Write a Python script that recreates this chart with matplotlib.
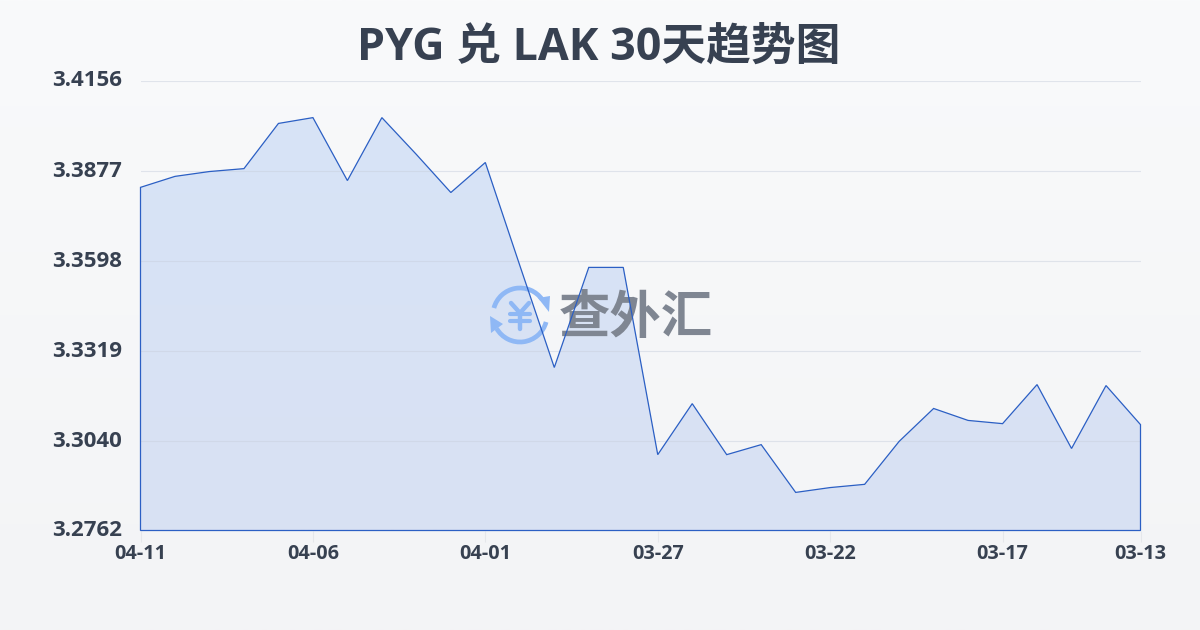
import numpy as np
import matplotlib
matplotlib.use("Agg")
import matplotlib.pyplot as plt
from matplotlib.patches import Arc, Polygon
from matplotlib.colors import LinearSegmentedColormap
from matplotlib.transforms import ScaledTranslation

plt.rcParams['font.family'] = ['Open Sans', 'Noto Sans CJK SC', 'DejaVu Sans']

title = "PYG 兑 LAK 30天趋势图"
rates = [3.3825, 3.3859, 3.3874, 3.3883, 3.4023, 3.4041, 3.3846, 3.4041, 3.3927, 3.3809,
         3.3902, 3.3583, 3.3267, 3.3577, 3.3577, 3.2997, 3.3155, 3.2997, 3.3028, 3.2880,
         3.2895, 3.2905, 3.3038, 3.3140, 3.3103, 3.3093, 3.3214, 3.3016, 3.3211, 3.3090]
y_ticks = [3.2762, 3.3040, 3.3319, 3.3598, 3.3877, 3.4156]
x_tick_pos = [0, 5, 10, 15, 20, 25, 29]
x_tick_labels = ["04-11", "04-06", "04-01", "03-27", "03-22", "03-17", "03-13"]

TXT = "#374151"
W, H = 1200, 630
fig = plt.figure(figsize=(W / 100, H / 100), dpi=100)

bg = fig.add_axes([0, 0, 1, 1], zorder=0)
bg.axis("off")
bg.imshow(np.linspace(0, 1, 256)[:, None], aspect="auto", extent=[0, W, H, 0],
          cmap=LinearSegmentedColormap.from_list("bg", ["#f9fafb", "#f3f4f6"]))
bg.set_xlim(0, W)
bg.set_ylim(H, 0)

L, R, T, B = 140.5, 1140.5, 80.5, 530.5
pos = [L / W, 1 - B / H, (R - L) / W, (B - T) / H]
ax = fig.add_axes(pos, zorder=2)
ax.patch.set_visible(False)
x = np.arange(len(rates))

grad = ax.imshow(np.linspace(0, 1, 256)[:, None], aspect="auto",
                 extent=[0, 29, y_ticks[0], y_ticks[-1]], origin="upper", zorder=1,
                 cmap=LinearSegmentedColormap.from_list("fill", ["#d7e4f7", "#d9e1f3"]))
poly = Polygon(list(zip(x, rates)) + [(29, y_ticks[0]), (0, y_ticks[0])],
               closed=True, transform=ax.transData, facecolor="none", edgecolor="none")
ax.add_patch(poly)
grad.set_clip_path(poly)
ax.set_xlim(0, 29)
ax.set_ylim(y_ticks[0], y_ticks[-1])

ax.set_yticks(y_ticks)
ax.set_yticklabels([f"{v:.4f}" for v in y_ticks], fontsize=16, fontweight="bold", color=TXT)
ax.set_xticks(x_tick_pos)
ax.set_xticklabels(x_tick_labels, fontsize=14.3, fontweight="bold", color=TXT)
ax.tick_params(axis="y", length=0, pad=13.5)
ax.tick_params(axis="x", length=8, width=0.8, color="#e5e7eb", pad=1.5)
lift = ScaledTranslation(0, 2 / 100, fig.dpi_scale_trans)
for lab in ax.get_yticklabels():
    lab.set_transform(lab.get_transform() + lift)
ax.grid(axis="y", color="#c9d0de", alpha=0.5, linewidth=0.8, zorder=2)
ax.set_axisbelow(False)
for s in ax.spines.values():
    s.set_visible(False)

# watermark between the area and the line, in pixel coordinates
ov = fig.add_axes([0, 0, 1, 1], zorder=3)
ov.axis("off")
ov.patch.set_visible(False)
ov.set_xlim(0, W)
ov.set_ylim(H, 0)
LOGO = "#8fb8f5"
cx, cy = 520, 315
ov.add_patch(Arc((cx, cy), 54, 54, theta1=195, theta2=325, color=LOGO, lw=3.4))
ov.add_patch(Arc((cx, cy), 54, 54, theta1=15, theta2=150, color=LOGO, lw=3.4))
ov.add_patch(Polygon([(538, 298), (550, 296), (549, 312)], closed=True, color=LOGO, lw=0))
ov.add_patch(Polygon([(490, 316), (503, 324), (491, 333)], closed=True, color=LOGO, lw=0))
ov.plot([511, 520, 529], [303, 313, 303], color=LOGO, lw=3.2, solid_capstyle="round")
ov.plot([520, 520], [313, 329], color=LOGO, lw=3.2, solid_capstyle="round")
ov.plot([510, 530], [314, 314], color=LOGO, lw=3.0, solid_capstyle="round")
ov.plot([510, 530], [321, 321], color=LOGO, lw=3.0, solid_capstyle="round")
ov.text(636, 318, "查外汇", fontsize=37, fontweight="bold", color="#7f8692",
        ha="center", va="center", family=['Noto Sans CJK SC', 'DejaVu Sans'])

# outline of the area above the watermark
top = fig.add_axes(pos, zorder=4)
top.axis("off")
top.patch.set_visible(False)
top.set_xlim(0, 29)
top.set_ylim(y_ticks[0], y_ticks[-1])
top.add_patch(Polygon(list(zip(x, rates)) + [(29, y_ticks[0]), (0, y_ticks[0])], closed=True,
                      facecolor="none", edgecolor="#2b5fc4", linewidth=0.9, clip_on=False))

fig.text(598.5 / W, 1 - 48 / H, title, fontsize=32.2, fontweight="bold", color=TXT,
         ha="center", va="center", zorder=10)

fig.savefig("out.png", dpi=100)
